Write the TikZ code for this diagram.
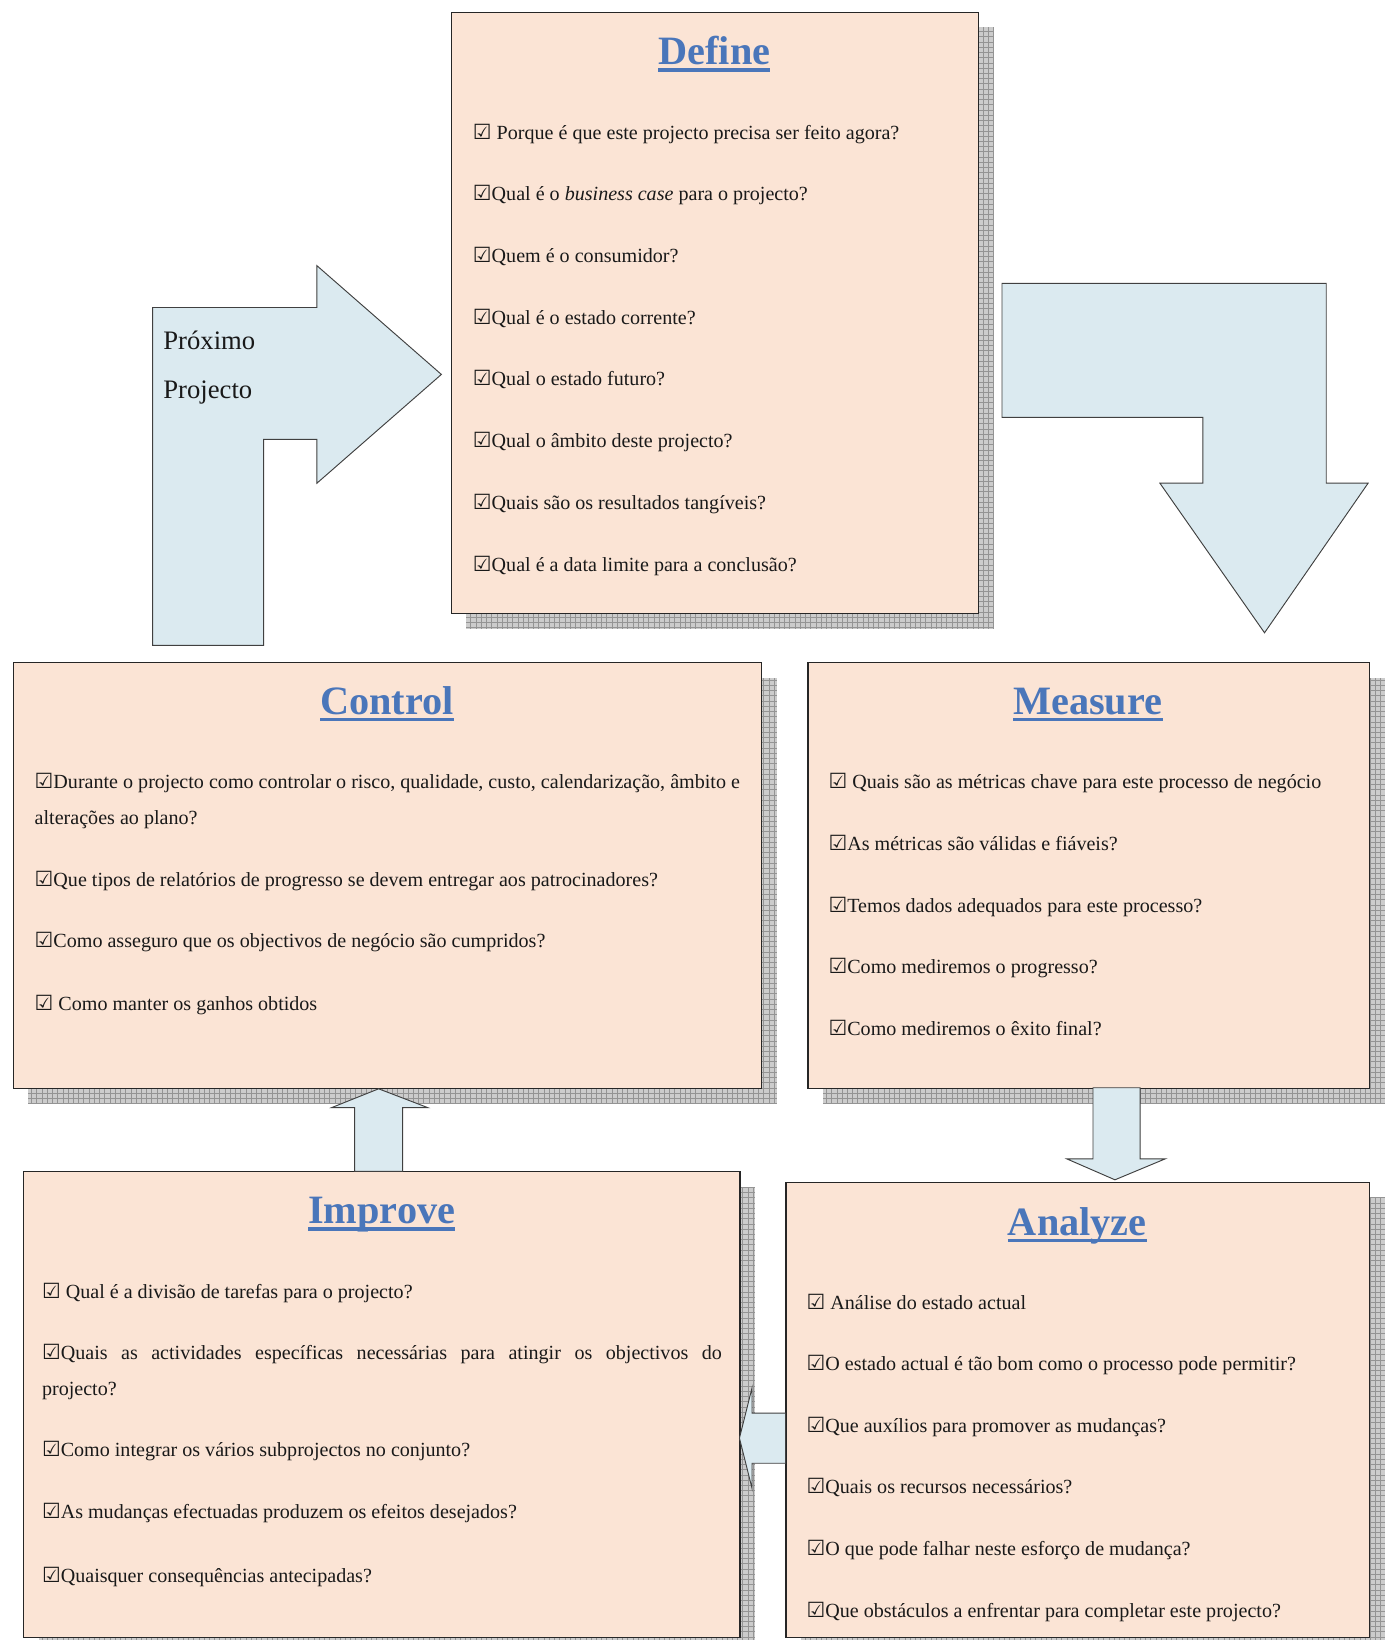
\documentclass[tikz,border=0pt]{standalone}
\usepackage{fontspec}
\setmainfont{Liberation Serif}
\newfontfamily\symfont{DejaVu Sans}
\newcommand{\chk}{{\symfont\fontsize{20}{20}\selectfont ☑}}
\definecolor{peach}{RGB}{251,228,213}
\definecolor{ice}{RGB}{219,234,240}
\definecolor{titleblue}{RGB}{74,118,186}

\begin{document}
\begin{tikzpicture}[x=1pt,y=-1pt,
	box/.style={draw=black!85,line width=1pt,fill=peach,anchor=north west,inner sep=0pt},
	shade/.style={fill=black!20},
	tile/.style={draw=black!42,line width=0.35pt,step=5pt},
	flow/.style={draw=black!75,line width=0.9pt,fill=ice,line join=miter},
	title/.style={font=\fontsize{38.5}{40}\selectfont\bfseries,text=titleblue,inner sep=0pt,anchor=base},
	uline/.style={draw=titleblue,line width=3.5pt},
	item/.style={font=\fontsize{19.2}{34}\selectfont,text=black!90,inner sep=0pt,anchor=base west}]
	\fill[white] (0,0) rectangle (1325,1568);
	\useasboundingbox (0,0) rectangle (1325,1568);

	% boxes with shadow
	\foreach \nm/\l/\t/\r/\b in {define/431/11/935/586,control/12/633/728/1040,measure/772/633/1309/1040,improve/22/1120/707/1565,analyze/751/1130/1309/1565} {
		\fill[shade] (\l+15,\t+15) rectangle (\r+15,\b+15);
		\draw[tile] (\l+15,\t+15) grid (\r+15,\b+15);
		\node[box,minimum width=\r-\l,minimum height=\b-\t] (\nm) at (\l,\t) {};
	}

	% titles
	\foreach \nm/\x/\y/\txt in {define/683/62/Define,control/370/683/Control,measure/1040/683/Measure,improve/365/1170/Improve,analyze/1030/1181/Analyze} {
		\node[title] (t\nm) at (\x,\y) {\txt};
		\draw[uline] ([yshift=-5pt]t\nm.base west) -- ([yshift=-5pt]t\nm.base east);
	}

	% big arrows
	\draw[flow] (146,617) -- (146,294) -- (303,294) -- (303,254) -- (422,358) -- (303,462) -- (303,420) -- (252,420) -- (252,617) -- cycle;
	\node[item,font=\fontsize{25.5}{26}\selectfont] (prox) at (156,334) {Próximo};
	\node[item,font=\fontsize{25.5}{26}\selectfont] (proj) at (156,381) {Projecto};
	\draw[flow] (958,271) -- (1268,271) -- (1268,462) -- (1308,462) -- (1209,605) -- (1109,462) -- (1150,462) -- (1150,399) -- (958,399) -- cycle;

	% small arrows
	\draw[flow] (339,1120) -- (339,1059) -- (317,1059) -- (362,1041) -- (409,1059) -- (385,1059) -- (385,1120) -- cycle;
	\draw[flow] (1045,1040) -- (1045,1108) -- (1020,1108) -- (1066,1128) -- (1114,1108) -- (1090,1108) -- (1090,1040) -- cycle;
	\draw[flow] (751,1351) -- (719,1351) -- (719,1327) -- (707,1375) -- (719,1423) -- (719,1399) -- (751,1399) -- cycle;

	% questions
	\foreach \txt [count=\i] in {{\chk\ Porque é que este projecto precisa ser feito agora?},{\chk Qual é o \textit{business case} para o projecto?},{\chk Quem é o consumidor?},{\chk Qual é o estado corrente?},{\chk Qual o estado futuro?},{\chk Qual o âmbito deste projecto?},{\chk Quais são os resultados tangíveis?},{\chk Qual é a data limite para a conclusão?}}
		\node[item] (def\i) at (452,{133+(\i-1)*59}) {\txt};

	\foreach \y/\txt [count=\i] in {754/{\chk Durante o projecto como controlar o risco, qualidade, custo, calendarização, âmbito e},788/{alterações ao plano?},848/{\chk Que tipos de relatórios de progresso se devem entregar aos patrocinadores?},906/{\chk Como asseguro que os objectivos de negócio são cumpridos?},966/{\chk\ Como manter os ganhos obtidos}}
		\node[item] (ctl\i) at (33,\y) {\txt};

	\foreach \y/\txt [count=\i] in {754/{\chk\ Quais são as métricas chave para este processo de negócio},813/{\chk As métricas são válidas e fiáveis?},872/{\chk Temos dados adequados para este processo?},931/{\chk Como mediremos o progresso?},990/{\chk Como mediremos o êxito final?}}
		\node[item] (mea\i) at (792,\y) {\txt};

	\foreach \y/\txt [count=\i] in {1241/{\chk\ Qual é a divisão de tarefas para o projecto?},1300/{\makebox[650pt][s]{\chk Quais as actividades específicas necessárias para atingir os objectivos do}},1334/{projecto?},1393/{\chk Como integrar os vários subprojectos no conjunto?},1452/{\chk As mudanças efectuadas produzem os efeitos desejados?},1513/{\chk Quaisquer consequências antecipadas?}}
		\node[item] (imp\i) at (40,\y) {\txt};

	\foreach \y/\txt [count=\i] in {1252/{\chk\ Análise do estado actual},1310/{\chk O estado actual é tão bom como o processo pode permitir?},1370/{\chk Que auxílios para promover as mudanças?},1428/{\chk Quais os recursos necessários?},1487/{\chk O que pode falhar neste esforço de mudança?},1546/{\chk Que obstáculos a enfrentar para completar este projecto?}}
		\node[item] (ana\i) at (771,\y) {\txt};
\end{tikzpicture}
\end{document}
